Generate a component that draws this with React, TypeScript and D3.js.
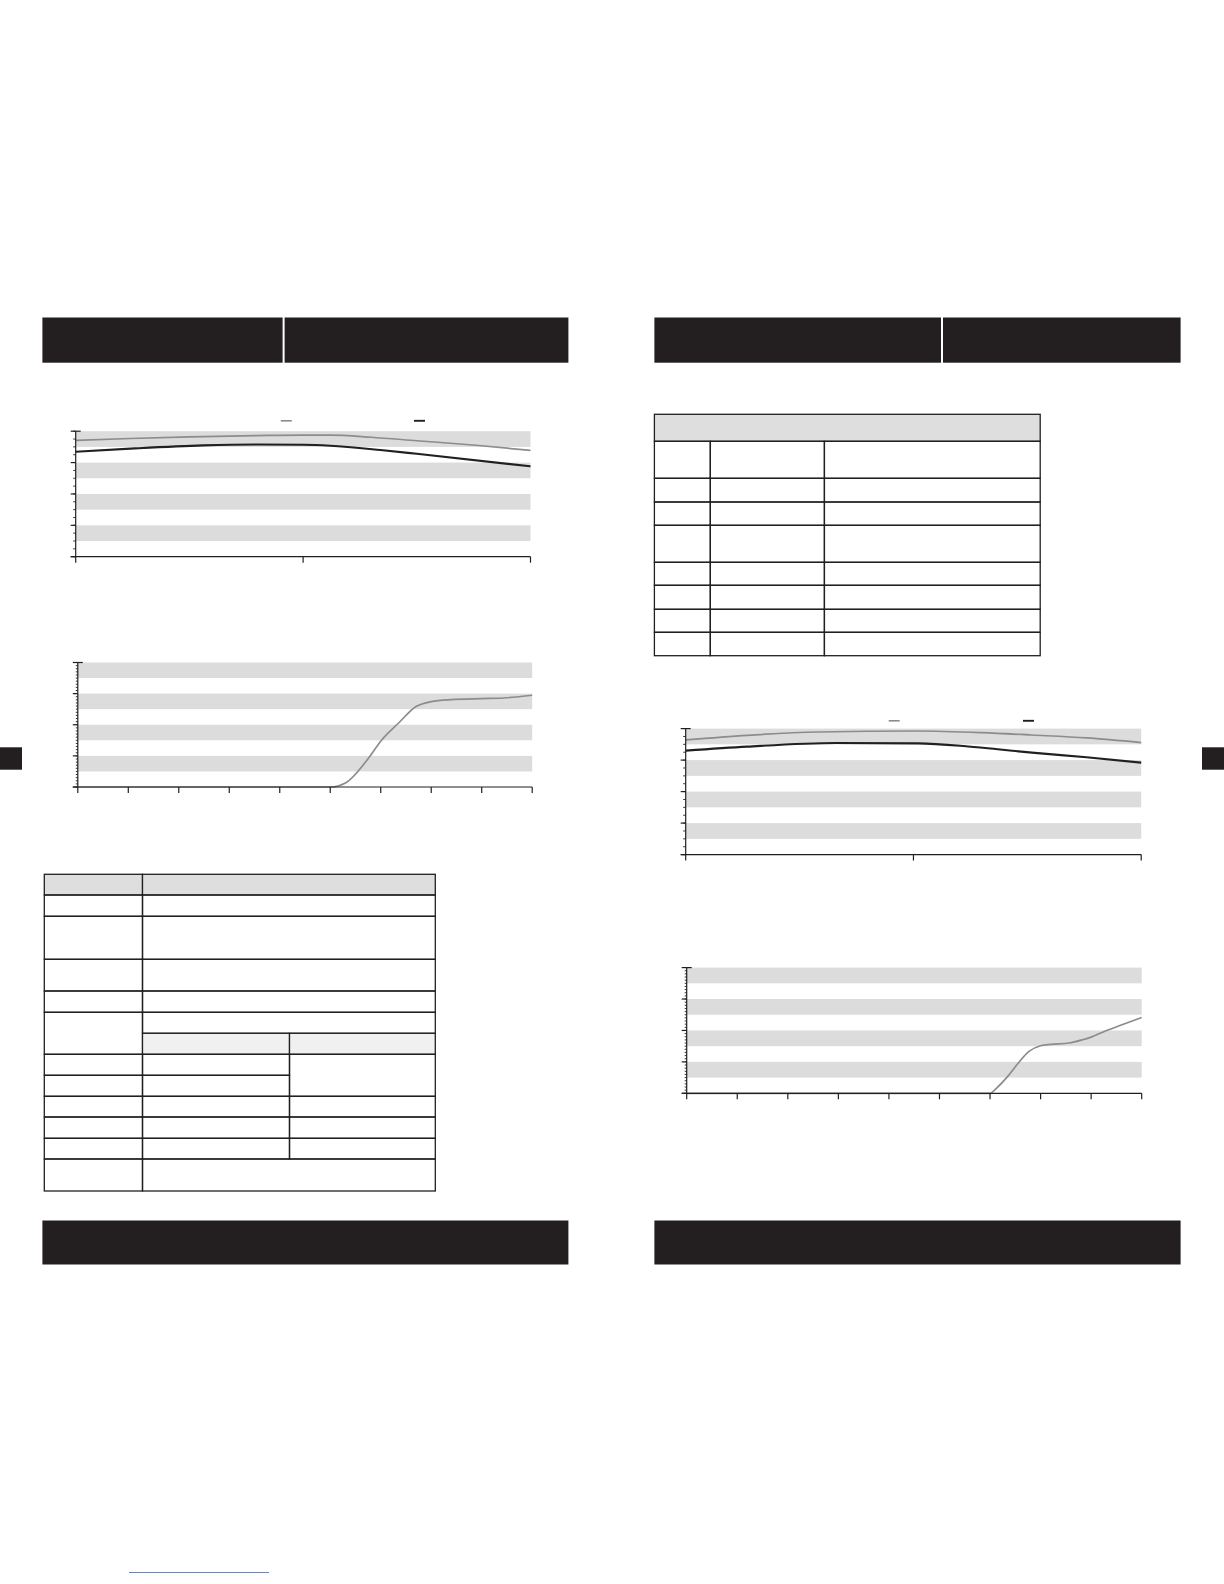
import React from "react";
import * as d3 from "d3";

// ---------- data ----------
// Chart A (top-left) and Chart C (right middle): two series over a 0..100 x range
const chartA_grayX = [0, 12, 25, 40, 50, 56, 65, 75, 88, 100];
const chartA_grayY = [92.6, 94.2, 95.5, 96.5, 96.9, 96.9, 95.2, 92.4, 88.8, 84.7];
const chartA_blackX = [0, 13, 28, 40, 50, 56, 67, 75, 100];
const chartA_blackY = [83.6, 86.3, 88.7, 89.4, 89.2, 88.4, 85.0, 82.0, 72.0];

const chartC_grayX = [0, 13.5, 29, 51, 65, 76, 88, 100];
const chartC_grayY = [91.0, 94.7, 97.3, 98.1, 96.8, 94.9, 92.6, 88.9];
const chartC_blackX = [0, 13.5, 33, 51, 61, 68.5, 76, 88, 100];
const chartC_blackY = [82.5, 85.7, 88.6, 88.3, 86.2, 83.6, 80.9, 77.2, 73.0];

// Chart B (bottom-left) and Chart D (right bottom): one series over 0..9
const chartB_x = [0, 5, 5.31, 5.73, 6.02, 6.35, 6.7, 7.0, 7.39, 8.0, 8.43, 9];
const chartB_y = [0, 0, 3.5, 21.7, 37.8, 51.2, 64.6, 68.6, 70.2, 71.0, 71.5, 73.7];
const chartD_x = [0, 6, 6.13, 6.35, 6.56, 6.77, 7.0, 7.2, 7.56, 7.83, 8.0, 8.26, 8.61, 9];
const chartD_y = [0, 0, 4.2, 13.5, 24.1, 33.3, 37.8, 38.9, 40.0, 42.6, 44.7, 49.2, 54.5, 60.3];

const twoSeriesXTicks = [0, 50, 100];
const nineStepXTicks = [0, 1, 2, 3, 4, 5, 6, 7, 8, 9];
const yMajorTicks = [0, 25, 50, 75, 100];

// ---------- styles ----------
const INK = "#231f20";
const BAND = "#dcdcdc";
const GRAY_LINE = "#8c8c8c";

type Box = { x0: number; x1: number; y0: number; y1: number };
type Series = { xs: number[]; ys: number[]; color: string; width: number };

function LineChart(props: {
  box: Box;
  xDomain: [number, number];
  xTicks: number[];
  minorPerMajor: number;
  minorLen: number;
  series: Series[];
  legend?: { y: number; items: { x: number; color: string; width: number }[] };
}) {
  const { box, xDomain, xTicks, minorPerMajor, minorLen, series, legend } = props;
  const x = d3.scaleLinear().domain(xDomain).range([box.x0, box.x1]);
  const y = d3.scaleLinear().domain([0, 100]).range([box.y1, box.y0]);
  const step = 25;
  const bands = yMajorTicks.slice(1).map((v) => [v - step / 2, v]);
  const minors = d3.range(0, 100.001, step / minorPerMajor);
  const line = d3
    .line<[number, number]>()
    .x((d) => x(d[0]))
    .y((d) => y(d[1]))
    .curve(d3.curveMonotoneX);
  return (
    <g>
      {bands.map(([a, b], i) => (
        <rect key={"b" + i} x={box.x0} y={y(b)} width={box.x1 - box.x0} height={y(a) - y(b)} fill={BAND} />
      ))}
      {series.map((s, i) => (
        <path
          key={"s" + i}
          d={line(s.xs.map((v, j) => [v, s.ys[j]] as [number, number])) || ""}
          fill="none"
          stroke={s.color}
          strokeWidth={s.width}
          strokeLinejoin="round"
        />
      ))}
      {/* y axis */}
      <line x1={box.x0} x2={box.x0} y1={box.y0} y2={box.y1} stroke={INK} strokeWidth={1.2} />
      {minors.map((v, i) => (
        <line key={"m" + i} x1={box.x0 - minorLen} x2={box.x0} y1={y(v)} y2={y(v)} stroke={INK} strokeWidth={0.9} />
      ))}
      {yMajorTicks.map((v, i) => (
        <line
          key={"M" + i}
          x1={box.x0 - 5}
          x2={v === 100 ? box.x0 + 5 : box.x0}
          y1={y(v)}
          y2={y(v)}
          stroke={INK}
          strokeWidth={1.2}
        />
      ))}
      {/* x axis */}
      <line x1={box.x0 - 5} x2={box.x1} y1={box.y1} y2={box.y1} stroke={INK} strokeWidth={1.2} />
      {xTicks.map((v, i) => (
        <line key={"x" + i} x1={x(v)} x2={x(v)} y1={box.y1} y2={box.y1 + 6} stroke={INK} strokeWidth={1.2} />
      ))}
      {legend &&
        legend.items.map((it, i) => (
          <line key={"l" + i} x1={it.x} x2={it.x + 11} y1={legend.y} y2={legend.y} stroke={it.color} strokeWidth={it.width} />
        ))}
    </g>
  );
}

type Cell = [number, number, number, number, string?];

function Table(props: { cols: number[]; rows: number[]; cells: Cell[] }) {
  const { cols, rows, cells } = props;
  return (
    <g>
      {cells.map(([c0, c1, r0, r1, fill], i) => (
        <rect
          key={i}
          x={cols[c0]}
          y={rows[r0]}
          width={cols[c1] - cols[c0]}
          height={rows[r1] - rows[r0]}
          fill={fill || "none"}
          stroke={INK}
          strokeWidth={1.3}
        />
      ))}
    </g>
  );
}

const HEAD = "#dedede";
const SUB = "#f0f0f0";

const table1Cols = [44.3, 142.5, 289.5, 435.3];
const table1Rows = [874.3, 895, 916.3, 959.3, 991, 1012.3, 1033.3, 1054.3, 1075.3, 1096.3, 1117, 1138.3, 1159, 1191];
const table1Cells: Cell[] = [
  [0, 1, 0, 1, HEAD], [1, 3, 0, 1, HEAD],
  [0, 1, 1, 2], [1, 3, 1, 2],
  [0, 1, 2, 3], [1, 3, 2, 3],
  [0, 1, 3, 4], [1, 3, 3, 4],
  [0, 1, 4, 5], [1, 3, 4, 5],
  [0, 1, 5, 7], [1, 3, 5, 6], [1, 2, 6, 7, SUB], [2, 3, 6, 7, SUB],
  [0, 1, 7, 8], [1, 2, 7, 8], [2, 3, 7, 9],
  [0, 1, 8, 9], [1, 2, 8, 9],
  [0, 1, 9, 10], [1, 2, 9, 10], [2, 3, 9, 10],
  [0, 1, 10, 11], [1, 2, 10, 11], [2, 3, 10, 11],
  [0, 1, 11, 12], [1, 2, 11, 12], [2, 3, 11, 12],
  [0, 1, 12, 13], [1, 3, 12, 13],
];

const table2Cols = [654.4, 710.3, 824.4, 1040.2];
const table2Rows = [414.3, 441.3, 478.3, 502, 525.3, 562.3, 585.3, 609.3, 632.3, 655.7];
const table2Cells: Cell[] = [[0, 3, 0, 1, HEAD]];
for (let r = 1; r < table2Rows.length - 1; r++) {
  for (let c = 0; c < 3; c++) table2Cells.push([c, c + 1, r, r + 1]);
}

export default function App() {
  return (
    <svg
      width={1224}
      height={1584}
      viewBox="0 0 1224 1584"
      style={{ position: "absolute", left: 0, top: 0, background: "#fff" }}
    >
      <rect x={0} y={0} width={1224} height={1584} fill="#fff" />
      {/* header bars */}
      <rect x={42.4} y={317.5} width={240.2} height={45.2} fill={INK} />
      <rect x={284.6} y={317.5} width={283.8} height={45.2} fill={INK} />
      <rect x={654.4} y={317.5} width={286.6} height={45.2} fill={INK} />
      <rect x={943.0} y={317.5} width={237.6} height={45.2} fill={INK} />
      {/* footer bars */}
      <rect x={42.4} y={1220.5} width={526} height={44} fill={INK} />
      <rect x={654.4} y={1220.5} width={526.2} height={44} fill={INK} />
      {/* side tabs */}
      <rect x={0} y={747.3} width={22} height={22.4} fill={INK} />
      <rect x={1202} y={747.3} width={22} height={22.4} fill={INK} />

      <LineChart
        box={{ x0: 75.7, x1: 530.5, y0: 431.2, y1: 556.7 }}
        xDomain={[0, 100]}
        xTicks={twoSeriesXTicks}
        minorPerMajor={4}
        minorLen={2.5}
        series={[
          { xs: chartA_grayX, ys: chartA_grayY, color: GRAY_LINE, width: 1.7 },
          { xs: chartA_blackX, ys: chartA_blackY, color: INK, width: 2.1 },
        ]}
        legend={{ y: 420.8, items: [{ x: 280.8, color: GRAY_LINE, width: 1.6 }, { x: 414, color: INK, width: 1.9 }] }}
      />
      <LineChart
        box={{ x0: 77.8, x1: 532.2, y0: 662.5, y1: 787 }}
        xDomain={[0, 9]}
        xTicks={nineStepXTicks}
        minorPerMajor={10}
        minorLen={2}
        series={[{ xs: chartB_x, ys: chartB_y, color: GRAY_LINE, width: 1.7 }]}
      />
      <LineChart
        box={{ x0: 685.7, x1: 1141.2, y0: 728.6, y1: 854.6 }}
        xDomain={[0, 100]}
        xTicks={twoSeriesXTicks}
        minorPerMajor={4}
        minorLen={2.5}
        series={[
          { xs: chartC_grayX, ys: chartC_grayY, color: GRAY_LINE, width: 1.7 },
          { xs: chartC_blackX, ys: chartC_blackY, color: INK, width: 2.1 },
        ]}
        legend={{ y: 720.8, items: [{ x: 888.7, color: GRAY_LINE, width: 1.6 }, { x: 1023, color: INK, width: 1.9 }] }}
      />
      <LineChart
        box={{ x0: 686.7, x1: 1141.7, y0: 967.6, y1: 1093.3 }}
        xDomain={[0, 9]}
        xTicks={nineStepXTicks}
        minorPerMajor={10}
        minorLen={2}
        series={[{ xs: chartD_x, ys: chartD_y, color: GRAY_LINE, width: 1.7 }]}
      />

      <Table cols={table1Cols} rows={table1Rows} cells={table1Cells} />
      <Table cols={table2Cols} rows={table2Rows} cells={table2Cells} />

      {/* faint link underline near the bottom */}
      <line x1={129} x2={269} y1={1572.5} y2={1572.5} stroke="#4a6fcc" strokeWidth={1} opacity={0.85} />
    </svg>
  );
}
